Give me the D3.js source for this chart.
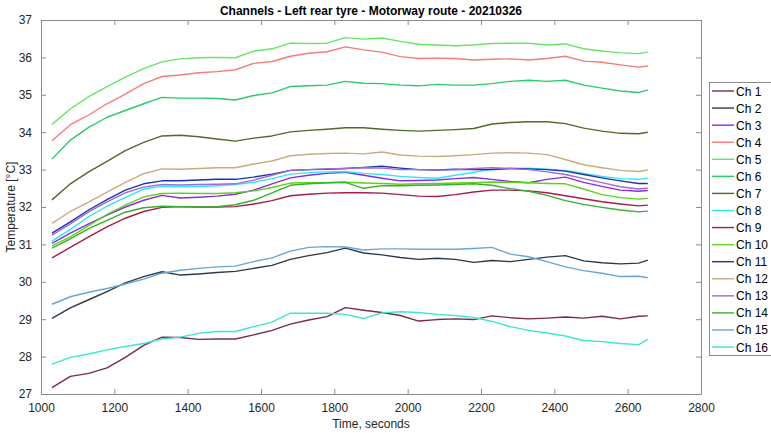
<!DOCTYPE html>
<html>
<head>
<meta charset="utf-8">
<script src="https://cdn.jsdelivr.net/npm/d3@7"></script>
<style>
  html, body { margin: 0; padding: 0; background: #ffffff; }
  svg { display: block; font-family: "Liberation Sans", Arial, sans-serif; }
</style>
</head>
<body>
<svg id="chart" width="771" height="433"></svg>
<script>
// Sample times (seconds)
const times = [1030,1080,1130,1180,1230,1280,1330,1380,1430,1480,1530,1580,1630,1680,1730,1780,1830,1880,1930,1980,2030,2080,2130,2180,2230,2280,2330,2380,2430,2480,2530,2580,2630,2655];

// Channel temperatures (°C) at each sample time
const ch1  = [27.17,27.47,27.55,27.70,27.98,28.30,28.52,28.51,28.46,28.47,28.47,28.58,28.70,28.87,28.98,29.07,29.31,29.24,29.18,29.10,28.95,28.99,29.01,28.99,29.09,29.04,29.01,29.03,29.06,29.03,29.08,29.01,29.08,29.09];
const ch2  = [29.02,29.30,29.52,29.74,29.97,30.14,30.27,30.18,30.21,30.25,30.28,30.36,30.44,30.60,30.70,30.78,30.90,30.77,30.72,30.65,30.60,30.63,30.60,30.52,30.57,30.54,30.60,30.66,30.70,30.56,30.51,30.48,30.50,30.58];
const ch3  = [31.03,31.30,31.55,31.78,32.00,32.18,32.31,32.24,32.26,32.29,32.34,32.45,32.62,32.78,32.85,32.90,32.93,32.85,32.77,32.70,32.71,32.72,32.76,32.79,32.74,32.68,32.65,32.74,32.80,32.66,32.55,32.45,32.42,32.44];
const ch4  = [33.77,34.20,34.46,34.76,35.02,35.30,35.49,35.53,35.59,35.62,35.67,35.84,35.89,36.03,36.11,36.15,36.28,36.20,36.14,36.02,35.97,35.98,35.97,35.93,35.95,35.96,35.93,35.97,36.03,35.90,35.87,35.80,35.74,35.77];
const ch5  = [34.21,34.62,34.95,35.22,35.47,35.70,35.88,35.96,35.99,36.00,35.99,36.17,36.23,36.38,36.37,36.38,36.53,36.49,36.52,36.43,36.35,36.33,36.31,36.33,36.37,36.38,36.38,36.33,36.36,36.23,36.17,36.12,36.10,36.14];
const ch6  = [33.28,33.79,34.13,34.40,34.58,34.76,34.93,34.91,34.91,34.90,34.86,34.98,35.05,35.22,35.24,35.26,35.36,35.31,35.30,35.26,35.24,35.28,35.26,35.26,35.30,35.36,35.39,35.36,35.39,35.26,35.18,35.10,35.06,35.13];
const ch7  = [32.19,32.62,32.94,33.22,33.51,33.73,33.90,33.92,33.88,33.82,33.76,33.84,33.90,34.01,34.05,34.08,34.12,34.12,34.08,34.05,34.03,34.05,34.07,34.10,34.22,34.26,34.28,34.28,34.23,34.11,34.03,33.97,33.96,34.00];
const ch8  = [31.09,31.40,31.74,32.02,32.26,32.48,32.55,32.54,32.55,32.57,32.60,32.66,32.76,32.88,32.92,32.94,32.95,32.90,32.87,32.82,32.79,32.77,32.85,32.93,33.01,33.03,33.04,33.01,32.98,32.90,32.82,32.76,32.74,32.77];
const ch9  = [30.64,30.92,31.20,31.47,31.70,31.88,31.99,32.01,32.00,32.00,32.01,32.08,32.17,32.30,32.34,32.37,32.38,32.38,32.37,32.33,32.29,32.28,32.33,32.40,32.45,32.45,32.43,32.38,32.30,32.22,32.14,32.08,32.03,32.05];
const ch10 = [30.96,31.20,31.50,31.80,32.05,32.27,32.36,32.37,32.36,32.36,32.38,32.43,32.52,32.64,32.65,32.65,32.66,32.64,32.63,32.61,32.62,32.63,32.64,32.65,32.67,32.66,32.65,32.63,32.62,32.48,32.33,32.25,32.21,32.23];
const ch11 = [31.30,31.60,31.92,32.20,32.45,32.62,32.70,32.70,32.72,32.74,32.74,32.80,32.88,32.98,33.00,33.01,33.03,33.06,33.09,33.04,33.00,32.99,33.01,33.00,33.00,33.03,33.02,33.00,32.96,32.87,32.78,32.70,32.63,32.63];
const ch12 = [31.56,31.88,32.13,32.40,32.66,32.89,33.02,33.01,33.03,33.05,33.05,33.15,33.23,33.37,33.41,33.43,33.44,33.42,33.47,33.39,33.36,33.35,33.37,33.40,33.44,33.45,33.44,33.40,33.27,33.13,33.05,32.98,32.95,32.99];
const ch13 = [31.25,31.55,31.87,32.14,32.38,32.53,32.60,32.59,32.60,32.61,32.62,32.72,32.85,32.98,33.00,33.02,33.03,33.05,33.04,33.00,33.00,32.99,33.00,33.03,33.05,33.03,33.00,32.94,32.87,32.76,32.65,32.54,32.48,32.50];
const ch14 = [30.90,31.15,31.42,31.64,31.86,31.98,32.02,32.01,32.00,32.01,32.06,32.18,32.38,32.58,32.62,32.65,32.66,32.50,32.57,32.57,32.58,32.59,32.60,32.62,32.58,32.49,32.42,32.31,32.17,32.07,31.99,31.92,31.87,31.89];
const ch15 = [29.40,29.60,29.72,29.82,29.94,30.07,30.23,30.31,30.36,30.40,30.42,30.54,30.64,30.82,30.92,30.94,30.93,30.85,30.88,30.88,30.87,30.87,30.87,30.89,30.92,30.74,30.67,30.54,30.40,30.30,30.23,30.14,30.15,30.11];
const ch16 = [27.80,27.98,28.07,28.18,28.27,28.35,28.47,28.52,28.62,28.67,28.67,28.80,28.92,29.16,29.16,29.16,29.13,29.02,29.17,29.20,29.18,29.13,29.10,29.05,28.94,28.80,28.70,28.63,28.55,28.43,28.40,28.35,28.32,28.46];

const channelNames = ["Ch 1","Ch 2","Ch 3","Ch 4","Ch 5","Ch 6","Ch 7","Ch 8","Ch 9","Ch 10","Ch 11","Ch 12","Ch 13","Ch 14","Ch 15","Ch 16"];
const channelValues = [ch1,ch2,ch3,ch4,ch5,ch6,ch7,ch8,ch9,ch10,ch11,ch12,ch13,ch14,ch15,ch16];
const channelColors = ["#772b4f","#2b3a4a","#8a2be2","#f47c7c","#67e567","#2bcb6b","#4f6b2a","#2ee9f5",
                       "#a51d4a","#5fd11a","#1f33a6","#c9ab7f","#a06ad8","#35b02f","#6aa5d4","#3ae8cf"];

const xTicks = [1000,1200,1400,1600,1800,2000,2200,2400,2600,2800];
const yTicks = [27,28,29,30,31,32,33,34,35,36,37];

const titleText = "Channels - Left rear tyre - Motorway route - 20210326";
const xLabel = "Time, seconds";
const yLabel = "Temperature [°C]";

// Layout
const plot = { left: 41, top: 20, right: 701, bottom: 394 };
const svg = d3.select("#chart");

const x = d3.scaleLinear().domain([1000, 2800]).range([plot.left, plot.right]);
const y = d3.scaleLinear().domain([27, 37]).range([plot.bottom, plot.top]);

const axisColor = "#262626";
const boxColor = "#8c8c8c";
const tickLen = 5;

// Data lines (first channel drawn first, last on top)
const line = d3.line()
  .x((d, i) => x(times[i]))
  .y(d => y(d));

const linesG = svg.append("g");
channelValues.forEach((vals, k) => {
  linesG.append("path")
    .datum(vals)
    .attr("fill", "none")
    .attr("stroke", channelColors[k])
    .attr("stroke-width", 1.4)
    .attr("stroke-linejoin", "round")
    .attr("d", line);
});

// Axes with inward ticks on all four sides
function styleAxis(g) {
  g.select(".domain").attr("stroke", boxColor).attr("stroke-width", 1);
  g.selectAll(".tick line").attr("stroke", boxColor);
  g.selectAll(".tick text").attr("fill", axisColor).attr("font-size", 12)
    .attr("font-family", "'Liberation Sans', Arial, sans-serif");
}

const xAxisB = d3.axisBottom(x).tickValues(xTicks).tickFormat(d3.format("d"))
  .tickSizeInner(-tickLen).tickSizeOuter(0).tickPadding(9);
svg.append("g").attr("transform", `translate(0,${plot.bottom})`).call(xAxisB).call(styleAxis);

const xAxisT = d3.axisTop(x).tickValues(xTicks).tickFormat("")
  .tickSizeInner(-tickLen).tickSizeOuter(0);
svg.append("g").attr("transform", `translate(0,${plot.top})`).call(xAxisT).call(styleAxis);

const yAxisL = d3.axisLeft(y).tickValues(yTicks).tickFormat(d3.format("d"))
  .tickSizeInner(-tickLen).tickSizeOuter(0).tickPadding(9);
svg.append("g").attr("transform", `translate(${plot.left},0)`).call(yAxisL).call(styleAxis);

const yAxisR = d3.axisRight(y).tickValues(yTicks).tickFormat("")
  .tickSizeInner(-tickLen).tickSizeOuter(0);
svg.append("g").attr("transform", `translate(${plot.right},0)`).call(yAxisR).call(styleAxis);

// Title and axis labels
svg.append("text")
  .attr("x", (plot.left + plot.right) / 2).attr("y", 15)
  .attr("text-anchor", "middle")
  .attr("font-size", 12).attr("font-weight", "bold").attr("fill", "#000")
  .text(titleText);

svg.append("text")
  .attr("x", (plot.left + plot.right) / 2).attr("y", 428)
  .attr("text-anchor", "middle")
  .attr("font-size", 12).attr("fill", axisColor)
  .text(xLabel);

svg.append("text")
  .attr("transform", `translate(15,${(plot.top + plot.bottom) / 2}) rotate(-90)`)
  .attr("text-anchor", "middle")
  .attr("font-size", 12).attr("fill", axisColor)
  .text(yLabel);

// Legend
const legend = { left: 709, top: 82, width: 70, rowH: 17.07, firstY: 91 };
const legG = svg.append("g");
legG.append("rect")
  .attr("x", legend.left + 0.5).attr("y", legend.top + 0.5)
  .attr("width", legend.width).attr("height", 273)
  .attr("fill", "#fff").attr("stroke", boxColor);

channelNames.forEach((name, k) => {
  const cy = legend.firstY + k * legend.rowH;
  legG.append("line")
    .attr("x1", legend.left + 3).attr("x2", legend.left + 25)
    .attr("y1", cy).attr("y2", cy)
    .attr("stroke", channelColors[k]).attr("stroke-width", 1.4);
  legG.append("text")
    .attr("x", legend.left + 27).attr("y", cy + 4.5)
    .attr("font-size", 12).attr("fill", "#000")
    .text(name);
});
</script>
</body>
</html>
